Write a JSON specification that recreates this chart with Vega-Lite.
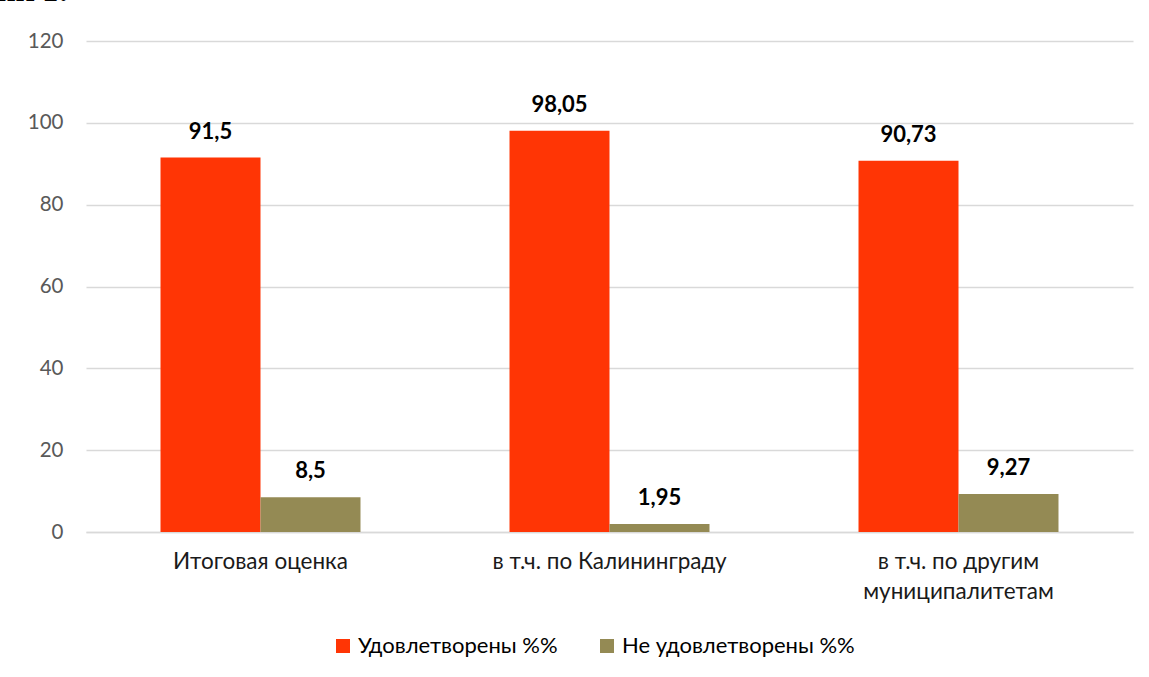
{
  "$schema": "https://vega.github.io/schema/vega-lite/v6.json",
  "width": 1047,
  "height": 491,
  "autosize": {"type": "none"},
  "padding": {"left": 86, "top": 41, "right": 16, "bottom": 145},
  "background": "white",
  "title": {
    "text": "График 1:",
    "font": "Liberation Serif",
    "fontSize": 32,
    "fontWeight": "bold",
    "color": "#000000",
    "anchor": "start",
    "frame": "group",
    "dx": -163,
    "offset": -9,
    "baseline": "bottom"
  },
  "data": {
    "values": [
      {"category": "Итоговая оценка", "series": "Удовлетворены %%", "value": 91.5, "label": "91,5"},
      {"category": "Итоговая оценка", "series": "Не удовлетворены %%", "value": 8.5, "label": "8,5"},
      {"category": "в т.ч. по Калининграду", "series": "Удовлетворены %%", "value": 98.05, "label": "98,05"},
      {"category": "в т.ч. по Калининграду", "series": "Не удовлетворены %%", "value": 1.95, "label": "1,95"},
      {"category": "в т.ч. по другим муниципалитетам", "series": "Удовлетворены %%", "value": 90.73, "label": "90,73"},
      {"category": "в т.ч. по другим муниципалитетам", "series": "Не удовлетворены %%", "value": 9.27, "label": "9,27"}
    ]
  },
  "encoding": {
    "x": {
      "field": "category",
      "type": "nominal",
      "sort": null,
      "scale": {"paddingInner": 0.427, "paddingOuter": 0.2135},
      "axis": {
        "title": null,
        "labelAngle": 0,
        "labelFont": "Lato",
        "labelFontSize": 22.5,
        "labelColor": "#1a1a1a",
        "labelPadding": 18,
        "labelLineHeight": 30,
        "labelLimit": 0,
        "labelExpr": "datum.value == 'в т.ч. по другим муниципалитетам' ? ['в т.ч. по другим', 'муниципалитетам'] : datum.value",
        "ticks": false,
        "domainColor": "#D9D9D9",
        "domainWidth": 1.5
      }
    },
    "xOffset": {"field": "series", "type": "nominal", "sort": ["Удовлетворены %%", "Не удовлетворены %%"], "scale": {"paddingInner": 0, "paddingOuter": 0}},
    "y": {
      "field": "value",
      "type": "quantitative",
      "scale": {"domain": [0, 120]},
      "axis": {
        "title": null,
        "values": [0, 20, 40, 60, 80, 100, 120],
        "labelFont": "Lato",
        "labelFontSize": 20.5,
        "labelColor": "#595959",
        "labelPadding": 23,
        "ticks": false,
        "domain": false,
        "gridColor": "#D9D9D9",
        "gridWidth": 1.5
      }
    }
  },
  "layer": [
    {
      "mark": {"type": "bar"},
      "encoding": {
        "color": {
          "field": "series",
          "type": "nominal",
          "sort": ["Удовлетворены %%", "Не удовлетворены %%"],
          "scale": {"domain": ["Удовлетворены %%", "Не удовлетворены %%"], "range": ["#FF3505", "#948A54"]},
          "legend": {
            "title": null,
            "orient": "none",
            "legendX": 246,
            "legendY": 594,
            "direction": "horizontal",
            "symbolType": "square",
            "symbolSize": 196,
            "symbolStrokeWidth": 0,
            "labelFont": "Lato",
            "labelFontSize": 22,
            "labelColor": "#000000",
            "labelLimit": 0,
            "columnPadding": 38,
            "labelOffset": 4
          }
        }
      }
    },
    {
      "mark": {"type": "text", "baseline": "alphabetic", "dy": -19, "font": "Lato", "fontSize": 22, "fontWeight": "bold", "color": "#000000"},
      "encoding": {"text": {"field": "label"}}
    }
  ],
  "config": {"view": {"stroke": null}}
}
